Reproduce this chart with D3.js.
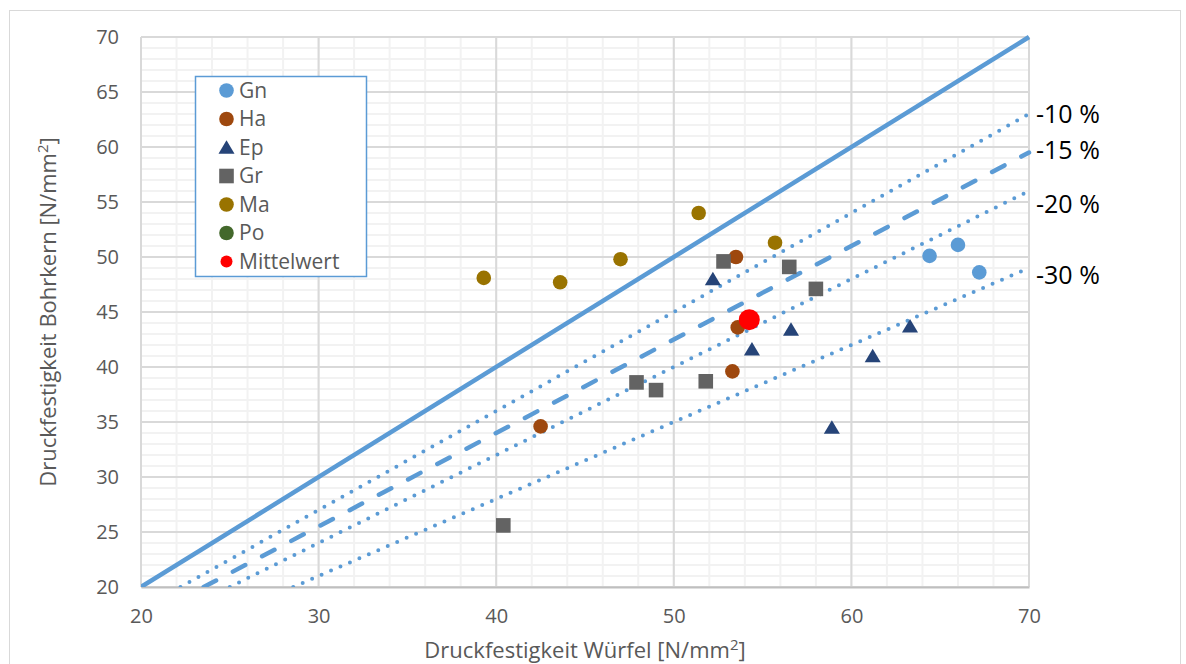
<!DOCTYPE html>
<html>
<head>
<meta charset="utf-8">
<script src="https://cdn.jsdelivr.net/npm/d3@7"></script>
<style>
  body { margin: 0; background: #fff; }
  text { font-family: 'Open Sans', sans-serif; }
</style>
</head>
<body>
<div id="chart"></div>
<script>
// data (x = Würfel, y = Bohrkern)
const gnX = [64.4, 66.0, 67.2];
const gnY = [50.1, 51.1, 48.6];
const haX = [42.5, 53.3, 53.6, 53.5];
const haY = [34.6, 39.6, 43.6, 50.0];
const epX = [52.2, 54.4, 56.6, 58.9, 61.2, 63.3];
const epY = [48.0, 41.6, 43.4, 34.5, 41.0, 43.7];
const grX = [40.4, 47.9, 49.0, 51.8, 52.8, 56.5, 58.0];
const grY = [25.6, 38.6, 37.9, 38.7, 49.6, 49.1, 47.1];
const maX = [39.3, 43.6, 47.0, 51.4, 55.7];
const maY = [48.1, 47.7, 49.8, 54.0, 51.3];
const poX = [];
const poY = [];
const meanX = [54.25];
const meanY = [44.3];

const seriesNames = ['Gn', 'Ha', 'Ep', 'Gr', 'Ma', 'Po', 'Mittelwert'];
const seriesColors = ['#5B9BD5', '#9E480E', '#264478', '#636363', '#997300', '#43682B', '#FF0000'];
const seriesShapes = ['circle', 'circle', 'triangle', 'square', 'circle', 'circle', 'circle'];

// reference lines y = f * x
const refFactors = [1.0, 0.9, 0.85, 0.8, 0.7];
const refStyles = ['solid', 'dot', 'dash', 'dot', 'dot'];
const refLabels = ['', '-10 %', '-15 %', '-20 %', '-30 %'];
const refLabelY = [0, 63.0, 59.7, 54.8, 48.3];

const xTicks = [20, 30, 40, 50, 60, 70];
const yTicks = [20, 25, 30, 35, 40, 45, 50, 55, 60, 65, 70];

const width = 1186;
const height = 664;
const margin = { left: 141, right: 156, top: 37, bottom: 77 };

const svg = d3.select('#chart')
    .append('svg')
    .attr('width', width)
    .attr('height', height);

// outer chart frame
svg.append('rect')
    .attr('x', 9.5).attr('y', 10.5)
    .attr('width', 1171).attr('height', 700)
    .attr('fill', 'none')
    .attr('stroke', '#D9D9D9');

const xScale = d3.scaleLinear()
    .domain([20, 70])
    .range([margin.left, width - margin.right - 1]);

const yScale = d3.scaleLinear()
    .domain([20, 70])
    .range([height - margin.bottom, margin.top]);

// grid lines
const grid = svg.append('g');
grid.selectAll('.vminor')
    .data(d3.range(20, 70.01, 2))
    .enter().append('line')
    .attr('x1', (d) => xScale(d)).attr('x2', (d) => xScale(d))
    .attr('y1', yScale(20)).attr('y2', yScale(70))
    .attr('stroke', '#F2F2F2').attr('stroke-width', 2);
grid.selectAll('.hminor')
    .data(d3.range(20, 70.01, 1))
    .enter().append('line')
    .attr('x1', xScale(20)).attr('x2', xScale(70))
    .attr('y1', (d) => yScale(d)).attr('y2', (d) => yScale(d))
    .attr('stroke', '#F2F2F2').attr('stroke-width', 2);
grid.selectAll('.vmajor')
    .data(xTicks)
    .enter().append('line')
    .attr('x1', (d) => xScale(d)).attr('x2', (d) => xScale(d))
    .attr('y1', yScale(20)).attr('y2', yScale(70))
    .attr('stroke', '#D9D9D9').attr('stroke-width', 2);
grid.selectAll('.hmajor')
    .data(yTicks)
    .enter().append('line')
    .attr('x1', xScale(20)).attr('x2', xScale(70))
    .attr('y1', (d) => yScale(d)).attr('y2', (d) => yScale(d))
    .attr('stroke', '#D9D9D9').attr('stroke-width', 2);

// axes (labels only)
const xAxis = d3.axisBottom(xScale).tickValues(xTicks).tickSize(0).tickPadding(22);
const yAxis = d3.axisLeft(yScale).tickValues(yTicks).tickSize(0).tickPadding(22);

svg.append('g')
    .attr('transform', `translate(0, ${yScale(20)})`)
    .call(xAxis)
    .call((g) => g.select('.domain').attr('stroke', '#BFBFBF').attr('stroke-width', 2));

svg.append('g')
    .attr('transform', `translate(${xScale(20)}, 0)`)
    .call(yAxis)
    .call((g) => g.select('.domain').remove());

svg.selectAll('.tick text')
    .attr('fill', '#595959')
    .style('font-size', '20px')
    .style('font-family', 'Open Sans, sans-serif');

// reference lines
svg.append('clipPath').attr('id', 'plot-clip')
    .append('rect')
    .attr('x', xScale(20)).attr('y', yScale(70) - 3)
    .attr('width', xScale(70) - xScale(20) + 3)
    .attr('height', yScale(20) - yScale(70) + 3);

const refG = svg.append('g').attr('clip-path', 'url(#plot-clip)');
refFactors.forEach((f, i) => {
    const x0 = Math.max(20, 20 / f);
    const line = refG.append('line')
        .attr('x1', xScale(x0)).attr('y1', yScale(x0 * f))
        .attr('x2', xScale(70)).attr('y2', yScale(70 * f))
        .attr('stroke', '#5B9BD5')
        .attr('stroke-linecap', refStyles[i] === 'solid' ? 'butt' : 'round');
    if (refStyles[i] === 'solid') {
        line.attr('stroke-width', 4.5);
    } else if (refStyles[i] === 'dash') {
        line.attr('stroke-width', 4.5).attr('stroke-dasharray', '14 19');
    } else {
        line.attr('stroke-width', 4).attr('stroke-dasharray', '0 10.3');
    }
});

svg.append('g').selectAll('text')
    .data(refLabels.map((t, i) => ({ t, y: refLabelY[i] })).filter((d) => d.t))
    .enter().append('text')
    .attr('x', xScale(70) + 7)
    .attr('y', (d) => yScale(d.y))
    .attr('dy', '0.35em')
    .attr('fill', '#000')
    .style('font-size', '25px')
    .text((d) => d.t);

// markers
function drawMarker(g, shape, color, size) {
    if (shape === 'circle') {
        g.append('circle').attr('r', size).attr('fill', color);
    } else if (shape === 'square') {
        g.append('rect')
            .attr('x', -size).attr('y', -size)
            .attr('width', size * 2).attr('height', size * 2)
            .attr('fill', color);
    } else {
        g.append('path')
            .attr('d', `M0,${-size} L${size * 1.1},${size * 0.85} L${-size * 1.1},${size * 0.85} Z`)
            .attr('fill', color);
    }
}

const allX = [gnX, haX, epX, grX, maX, poX, meanX];
const allY = [gnY, haY, epY, grY, maY, poY, meanY];

const markG = svg.append('g');
allX.forEach((xs, s) => {
    xs.forEach((xv, i) => {
        const g = markG.append('g')
            .attr('transform', `translate(${xScale(xv)}, ${yScale(allY[s][i])})`);
        const size = s === 6 ? 10.5 : 7.3;
        drawMarker(g, seriesShapes[s], seriesColors[s], size);
    });
});

// legend
const legend = svg.append('g');
legend.append('rect')
    .attr('x', 195.5).attr('y', 76.5)
    .attr('width', 171).attr('height', 200)
    .attr('fill', '#fff')
    .attr('stroke', '#5B9BD5')
    .attr('stroke-width', 1.5);

seriesNames.forEach((name, i) => {
    const cy = 90.5 + i * 28.5;
    const g = legend.append('g').attr('transform', `translate(226.5, ${cy})`);
    drawMarker(g, seriesShapes[i], seriesColors[i], i === 6 ? 6 : 7.3);
    legend.append('text')
        .attr('x', 239)
        .attr('y', cy)
        .attr('dy', '0.35em')
        .attr('fill', '#595959')
        .style('font-size', '21px')
        .text(name);
});

// axis titles
const xt = svg.append('text')
    .attr('x', (xScale(20) + xScale(70)) / 2)
    .attr('y', 658)
    .attr('text-anchor', 'middle')
    .attr('fill', '#595959')
    .style('font-size', '22px');
xt.append('tspan').text('Druckfestigkeit Würfel [N/mm');
xt.append('tspan').attr('dy', -8).style('font-size', '15px').text('2');
xt.append('tspan').attr('dy', 8).text(']');

const yt = svg.append('text')
    .attr('transform', `translate(56, ${(yScale(20) + yScale(70)) / 2}) rotate(-90)`)
    .attr('text-anchor', 'middle')
    .attr('fill', '#595959')
    .style('font-size', '22px');
yt.append('tspan').text('Druckfestigkeit Bohrkern [N/mm');
yt.append('tspan').attr('dy', -8).style('font-size', '15px').text('2');
yt.append('tspan').attr('dy', 8).text(']');
</script>
</body>
</html>
